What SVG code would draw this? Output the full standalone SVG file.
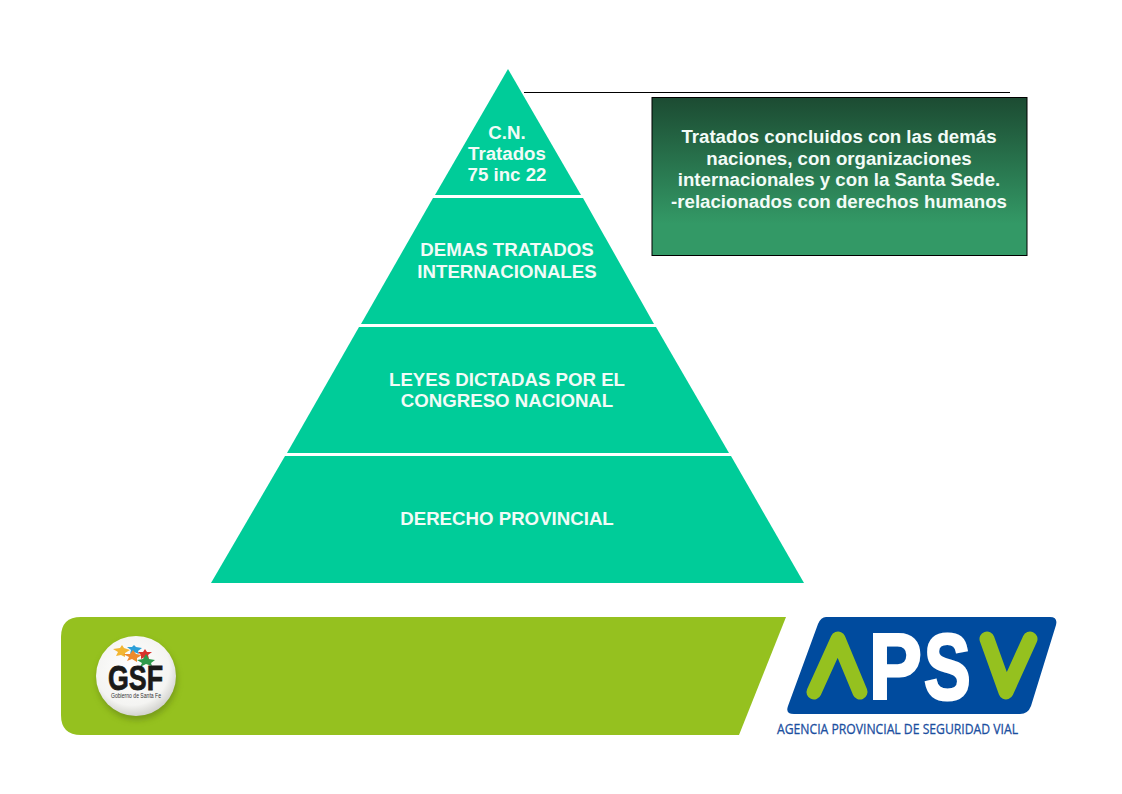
<svg xmlns="http://www.w3.org/2000/svg" width="1122" height="794" viewBox="0 0 1122 794">
<style>
.t{font-family:"Liberation Sans",Arial,sans-serif;font-weight:bold;font-size:18.67px;fill:#f2fbf7;text-anchor:middle}
.g{fill:none;stroke:#95c11f;stroke-width:15;stroke-linecap:round;stroke-linejoin:round}
.band{fill:#00cc99}
</style>
<defs>
<linearGradient id="bx" x1="0" y1="0" x2="0" y2="1"><stop offset="0" stop-color="#1c4b32"/><stop offset=".8" stop-color="#339966"/><stop offset="1" stop-color="#339966"/></linearGradient>
<radialGradient id="ball" cx=".45" cy=".4" r=".62"><stop offset="0" stop-color="#ffffff"/><stop offset=".75" stop-color="#f4f4f2"/><stop offset="1" stop-color="#cfcfcb"/></radialGradient>
<filter id="sh" x="-30%" y="-30%" width="160%" height="160%"><feGaussianBlur stdDeviation="3"/></filter>
</defs>
<rect width="1122" height="794" fill="#ffffff"/>
<g id="pyramid">
<g id="level-1"><polygon class="band" points="508,69 581,195 435,195"/>
<text class="t"><tspan x="507" y="139">C.N.</tspan><tspan x="507" y="160">Tratados</tspan><tspan x="507" y="181">75 inc 22</tspan></text></g>
<g id="level-2"><polygon class="band" points="433,198 583,198 654,324 361,324"/>
<text class="t"><tspan x="507" y="256">DEMAS TRATADOS</tspan><tspan x="507" y="278">INTERNACIONALES</tspan></text></g>
<g id="level-3"><polygon class="band" points="359,327 656,327 729,453 287,453"/>
<text class="t"><tspan x="507" y="386">LEYES DICTADAS POR EL</tspan><tspan x="507" y="407">CONGRESO NACIONAL</tspan></text></g>
<g id="level-4"><polygon class="band" points="285,456 731,456 804,583 211,583"/>
<text class="t" x="507" y="525">DERECHO PROVINCIAL</text></g>
</g>
<g id="connectors"><line x1="524" y1="92.5" x2="1010" y2="92.5" stroke="#000" stroke-width="1"/></g>
<g id="note">
<rect x="652" y="97.5" width="375" height="158" fill="url(#bx)" stroke="#000" stroke-width="1"/>
<text class="t"><tspan x="839" y="143">Tratados concluidos con las demás</tspan><tspan x="839" y="165">naciones, con organizaciones</tspan><tspan x="839" y="186">internacionales y con la Santa Sede.</tspan><tspan x="839" y="208">-relacionados con derechos humanos</tspan></text>
</g>
<g id="footer-bar"><path d="M81 617H786L739 735H81Q61 735 61 715V637Q61 617 81 617Z" fill="#95c11f"/></g>
<g id="gsf-logo">
<circle cx="137" cy="680" r="40" fill="#5d7a12" opacity=".55" filter="url(#sh)"/>
<circle cx="136" cy="676" r="40" fill="url(#ball)"/>
<polygon points="113,649 120,648 122,645 124,648 130,650 125,653 125,657 121,655 116,656 118,652" fill="#f2b632"/>
<polygon points="127,647 132,647 134,645 136,647 142,648 138,651 139,654 134,652 130,654 131,650" fill="#2c9fd8"/>
<polygon points="123,654 130,654 133,650 136,654 142,655 137,658 137,662 132,659 127,661 129,657" fill="#ee8a2d"/>
<polygon points="138,652 143,652 145,649 147,652 152,652 148,655 149,659 145,657 141,659 141,655" fill="#d8322c"/>
<polygon points="137,660 143,659 146,654 149,659 155,660 151,663 152,666 146,664 140,667 142,663" fill="#2e9a4b"/>
<text x="108" y="690" font-family="'Liberation Sans',Arial,sans-serif" font-weight="bold" font-size="35" fill="#1a1a18" stroke="#1a1a18" stroke-width=".8" textLength="55" lengthAdjust="spacingAndGlyphs">GSF</text>
<text x="111" y="698" font-family="'Liberation Sans',Arial,sans-serif" font-size="6.5" fill="#333" textLength="50" lengthAdjust="spacingAndGlyphs">Gobierno de Santa Fe</text>
</g>
<g id="apsv-logo">
<path d="M826 617H1050Q1058 617 1056 625L1031 706Q1028 714 1020 714H794Q785 714 788 706L818 624Q821 617 826 617Z" fill="#004b9e"/>
<polyline class="g" points="814,692 838,639 860,692"/>
<polyline class="g" points="987,639 1006,692 1030,639"/>
<text transform="translate(869,699) scale(.86,1)" font-family="'Liberation Sans',Arial,sans-serif" font-weight="bold" font-size="92" fill="#fff" stroke="#fff" stroke-width="3">P</text>
<text transform="translate(924,699) scale(.76,1)" font-family="'Liberation Sans',Arial,sans-serif" font-weight="bold" font-size="92" fill="#fff" stroke="#fff" stroke-width="3">S</text>
<text x="777" y="734" font-family="'Open Sans','Noto Sans',sans-serif" font-size="14" fill="#1c4f9f" stroke="#1c4f9f" stroke-width=".3" textLength="241" lengthAdjust="spacingAndGlyphs">AGENCIA PROVINCIAL DE SEGURIDAD VIAL</text>
</g>
</svg>
